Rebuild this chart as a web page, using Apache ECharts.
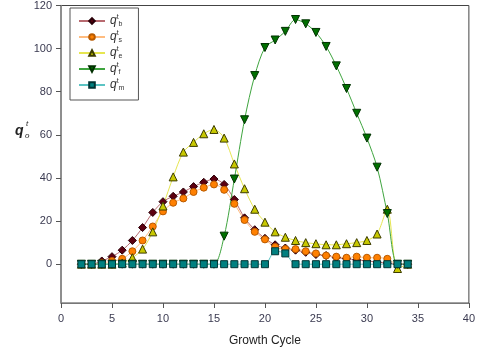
<!DOCTYPE html>
<html>
<head>
<meta charset="utf-8">
<script src="https://cdn.jsdelivr.net/npm/echarts@6/dist/echarts.min.js"></script>
<style>
  html, body { margin: 0; padding: 0; background: #fff; }
  #main { width: 478px; height: 360px; }
</style>
</head>
<body>
<div id="main"></div>
<script>
const cycles = [2, 3, 4, 5, 6, 7, 8, 9, 10, 11, 12, 13, 14, 15, 16, 17, 18, 19, 20, 21, 22, 23, 24, 25, 26, 27, 28, 29, 30, 31, 32, 33, 34]
const qb = [0, 0, 1.5, 3.5, 6.5, 11, 17, 24, 29, 31.5, 33.5, 36, 38, 39.5, 37, 30, 21.5, 16, 12, 9, 7.5, 6.5, 5.5, 4.5, 4, 3, 2.5, 2, 1.5, 1, 0.5, 0, 0]
const qs = [0, 0, 0.5, 1.5, 2.5, 6, 11, 17.5, 24.5, 28.5, 30.5, 33.5, 35.5, 37, 34.5, 28, 20.5, 15, 11.5, 8, 7, 7, 6, 5, 4, 3.5, 3, 3.5, 3, 3, 2.5, 0, 0]
const qe = [0, 0, 0, 0, 0.5, 3, 7, 15, 27, 40.5, 52, 56.5, 60.5, 62.5, 58.5, 46.5, 35, 25.5, 19.5, 15, 12.5, 11, 10, 9.5, 9, 9, 9.5, 10, 11, 14, 25.5, -2, 0]
const qf = [0, 0, 0, 0, 0, 0, 0, 0, 0, 0, 0, 0, 0, 0, 13, 39.5, 67, 87.5, 100.5, 104, 108, 113.5, 111.5, 107.5, 101, 92, 81.5, 70, 58.5, 45, 23.5, 0, 0]
const qm = [0, 0, 0, 0, 0, 0, 0, 0, 0, 0, 0, 0, 0, 0, 0, 0, 0, 0, 0, 6, 5, 0, 0, 0, 0, 0, 0, 0, 0, 0, 0, 0, 0]
const yTicks = [0, 20, 40, 60, 80, 100, 120]

const pairs = (ys) => cycles.map((c, i) => [c, ys[i]])

const myChart = echarts.init(document.getElementById('main'))

function makeSeries(name, data, symbol, size, fill, border, line, rotate) {
  return {
    name: name,
    type: 'line',
    data: pairs(data),
    smooth: 0.3,
    symbol: symbol,
    symbolSize: size,
    symbolRotate: rotate || 0,
    lineStyle: { color: line, width: 1 },
    itemStyle: { color: fill, borderColor: border, borderWidth: 1 },
    emphasis: { disabled: true },
  }
}

const option = {
  animation: false,
  backgroundColor: '#fff',
  textStyle: { fontFamily: 'Liberation Sans, Arial, sans-serif' },
  grid: {
    left: 61,
    right: 8,
    top: 4,
    bottom: 57,
    show: true,
    borderColor: '#444',
    borderWidth: 1,
  },
  legend: {
    orient: 'vertical',
    left: 70,
    top: 8,
    padding: [6, 14, 8, 8],
    itemWidth: 26,
    itemHeight: 7,
    itemGap: 2,
    borderColor: '#555',
    borderWidth: 1,
    backgroundColor: '#fff',
    data: ['b', 's', 'e', 'f', 'm'],
    formatter: (name) => '{q|q}{t|t}{s|' + name + '}',
    textStyle: {
      color: '#333',
      rich: {
        q: { fontSize: 12, fontStyle: 'italic', lineHeight: 14, color: '#333' },
        t: { fontSize: 7, verticalAlign: 'top', color: '#333' },
        s: { fontSize: 7, verticalAlign: 'bottom', color: '#333' },
      },
    },
  },
  xAxis: {
    type: 'value',
    min: 0,
    max: 40,
    interval: 5,
    name: 'Growth Cycle',
    nameLocation: 'middle',
    nameGap: 32,
    nameTextStyle: { fontSize: 12, color: '#222' },
    axisLine: { show: true, onZero: false, lineStyle: { color: '#777' } },
    axisTick: { show: true, length: 5, lineStyle: { color: '#555' } },
    axisLabel: { color: '#3a3a50', fontSize: 11, margin: 10 },
    splitLine: { show: false },
  },
  yAxis: {
    type: 'value',
    min: -18,
    max: 120,
    axisLine: { show: true, onZero: false, lineStyle: { color: '#888', width: 1.5 } },
    axisTick: { show: true, length: 5, customValues: yTicks, lineStyle: { color: '#555' } },
    axisLabel: { color: '#3a3a50', fontSize: 11, margin: 9, customValues: yTicks, showMinLabel: true, showMaxLabel: true },
    splitLine: { show: false },
  },
  graphic: [
    { type: 'text', left: 15, top: 124, style: { text: 'q', font: 'bold italic 14px Liberation Sans', fill: '#222' } },
    { type: 'text', left: 26, top: 120, style: { text: 't', font: 'italic 8px Liberation Sans', fill: '#222' } },
    { type: 'text', left: 25, top: 132, style: { text: 'o', font: 'italic 8px Liberation Sans', fill: '#222' } },
  ],
  series: [
    makeSeries('b', qb, 'diamond', 8, '#5c0010', '#2a0008', '#b86a70'),
    makeSeries('s', qs, 'circle', 7, '#ff8000', '#b85a00', '#ffbc80'),
    makeSeries('e', qe, 'triangle', 8, '#c8c800', '#3c3c00', '#e6e650'),
    makeSeries('f', qf, 'triangle', 8, '#007000', '#003000', '#3fa53f', 180),
    makeSeries('m', qm, 'rect', 7, '#008080', '#003434', '#5cc4c4'),
  ],
}

option && myChart.setOption(option)
window.addEventListener('resize', function () {
  myChart.resize()
})
</script>
</body>
</html>
